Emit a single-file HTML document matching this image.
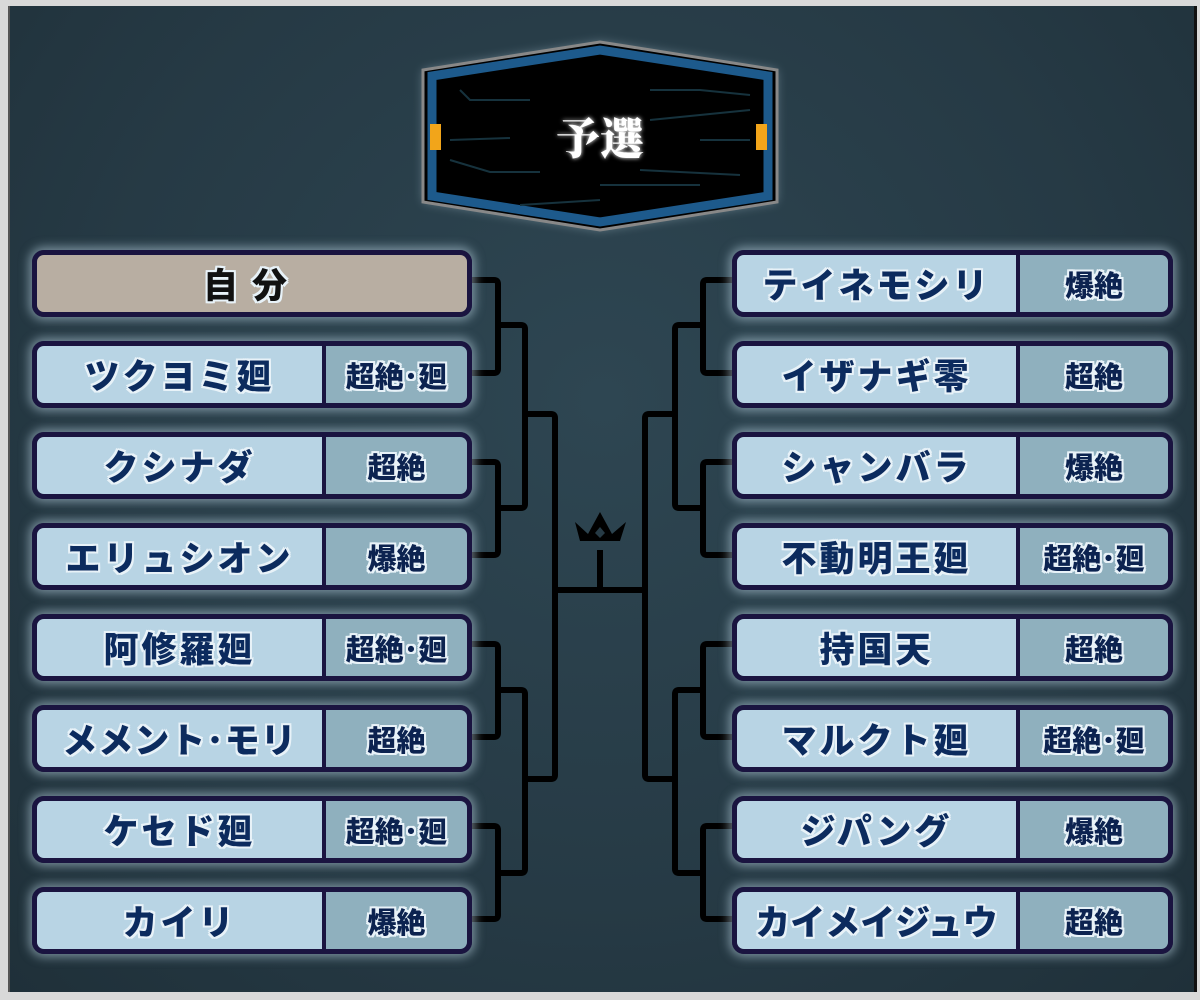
<!DOCTYPE html>
<html><head><meta charset="utf-8"><style>
html,body{margin:0;padding:0}
body{width:1200px;height:1000px;background:#d9d9d9;position:relative;overflow:hidden;font-family:"Liberation Sans","Noto Sans CJK JP",sans-serif}
#bg{position:absolute;left:8px;top:6px;width:1184px;height:986px;background:radial-gradient(ellipse at 50% 40%,#2e4652 0%,#263a45 60%,#1f3039 100%);border-right:3px solid #111;border-left:2px solid #555}
.box{position:absolute;height:57px;border:5px solid #1a1440;border-radius:12px;box-shadow:0 0 10px 3px rgba(190,215,230,.55);overflow:hidden;display:flex}
.n{background:#b8d4e4;display:flex;align-items:center;justify-content:center;font-weight:900;font-size:35px;color:#0c2b5e;letter-spacing:3px;text-shadow:2px 0 #e8f2f8,-2px 0 #e8f2f8,0 2px #e8f2f8,0 -2px #e8f2f8,2px 2px #e8f2f8,-2px -2px #e8f2f8,2px -2px #e8f2f8,-2px 2px #e8f2f8}
.t{background:#8fb0be;border-left:4px solid #1a1440;display:flex;align-items:center;justify-content:center;font-weight:900;font-size:29px;color:#0c2350;text-shadow:2px 0 #e8f2f8,-2px 0 #e8f2f8,0 2px #e8f2f8,0 -2px #e8f2f8,2px 2px #e8f2f8,-2px -2px #e8f2f8,2px -2px #e8f2f8,-2px 2px #e8f2f8}
.L{left:32px;width:430px}.L .n{width:285px}.L .t{flex:1}
.R{left:732px;width:431px}.R .n{width:279px}.R .t{flex:1}
</style></head><body>
<div id="bg"></div>
<svg style="position:absolute;left:0;top:0" width="1200" height="1000">
<defs><filter id="g" x="-20%" y="-20%" width="140%" height="140%"><feGaussianBlur stdDeviation="5"/></filter>
<filter id="tg" x="-30%" y="-30%" width="160%" height="160%"><feGaussianBlur stdDeviation="2" result="b"/><feMerge><feMergeNode in="b"/><feMergeNode in="SourceGraphic"/></feMerge></filter></defs>
<polygon points="423,70 600,42 777,70 777,202 600,230 423,202" fill="#9fb6c2" opacity=".5" filter="url(#g)"/>
<polygon points="423,70 600,42 777,70 777,202 600,230 423,202" fill="#000" stroke="#888" stroke-width="3"/>
<polygon points="432,76 600,50 768,76 768,196 600,222 432,196" fill="none" stroke="#1d5a8c" stroke-width="9"/>
<g stroke="#16323d" stroke-width="2" fill="none">
<path d="M460,90 L470,100 L530,100"/><path d="M450,140 L510,138"/><path d="M450,160 L490,172 L540,172"/><path d="M520,205 L600,200"/>
<path d="M650,90 L700,90 L750,95"/><path d="M650,120 L750,110"/><path d="M700,140 L750,140"/><path d="M640,170 L740,175"/><path d="M600,185 L700,185"/>
</g>
<rect x="430" y="124" width="11" height="26" fill="#f2a51a"/><rect x="756" y="124" width="11" height="26" fill="#f2a51a"/>
<text x="600" y="154" text-anchor="middle" font-family="Liberation Serif,'Noto Serif CJK SC',serif" font-weight="900" font-size="44" fill="#fff" filter="url(#tg)">予選</text>
<g stroke="#000" stroke-width="6" fill="none" stroke-linejoin="round">
<path d="M471,280 H494 Q498,280 498,284 V369 Q498,373 494,373 H471"/>
<path d="M471,462 H494 Q498,462 498,466 V551 Q498,555 494,555 H471"/>
<path d="M471,644 H494 Q498,644 498,648 V733 Q498,737 494,737 H471"/>
<path d="M471,826 H494 Q498,826 498,830 V915 Q498,919 494,919 H471"/>
<path d="M498,325 H521 Q525,325 525,329 V504 Q525,508 521,508 H498"/>
<path d="M498,690 H521 Q525,690 525,694 V869 Q525,873 521,873 H498"/>
<path d="M525,414 H551 Q555,414 555,418 V775 Q555,779 551,779 H525"/>
<path d="M732,280 H707 Q703,280 703,284 V369 Q703,373 707,373 H732"/>
<path d="M732,462 H707 Q703,462 703,466 V551 Q703,555 707,555 H732"/>
<path d="M732,644 H707 Q703,644 703,648 V733 Q703,737 707,737 H732"/>
<path d="M732,826 H707 Q703,826 703,830 V915 Q703,919 707,919 H732"/>
<path d="M703,325 H679 Q675,325 675,329 V504 Q675,508 679,508 H703"/>
<path d="M703,690 H679 Q675,690 675,694 V869 Q675,873 679,873 H703"/>
<path d="M675,414 H649 Q645,414 645,418 V775 Q645,779 649,779 H675"/>
<path d="M555,590 H645"/><path d="M600,550 V590"/>
</g>
<polygon points="575,522 588,534 600,512 612,534 626,522 620,541 580,541" fill="#000"/>
<polygon points="595,533 600,527 605,533 600,538" fill="#263a45"/>
</svg>
<div class="box L" style="top:250px"><div class="n" style="width:100%;background:#b8aea2;color:#111;letter-spacing:14px">自分</div></div>
<div class="box L" style="top:341px"><div class="n">ツクヨミ廻</div><div class="t">超絶･廻</div></div>
<div class="box L" style="top:432px"><div class="n">クシナダ</div><div class="t">超絶</div></div>
<div class="box L" style="top:523px"><div class="n">エリュシオン</div><div class="t">爆絶</div></div>
<div class="box L" style="top:614px"><div class="n">阿修羅廻</div><div class="t">超絶･廻</div></div>
<div class="box L" style="top:705px"><div class="n" style="letter-spacing:1px">メメント･モリ</div><div class="t">超絶</div></div>
<div class="box L" style="top:796px"><div class="n">ケセド廻</div><div class="t">超絶･廻</div></div>
<div class="box L" style="top:887px"><div class="n">カイリ</div><div class="t">爆絶</div></div>
<div class="box R" style="top:250px"><div class="n">テイネモシリ</div><div class="t">爆絶</div></div>
<div class="box R" style="top:341px"><div class="n">イザナギ零</div><div class="t">超絶</div></div>
<div class="box R" style="top:432px"><div class="n">シャンバラ</div><div class="t">爆絶</div></div>
<div class="box R" style="top:523px"><div class="n">不動明王廻</div><div class="t">超絶･廻</div></div>
<div class="box R" style="top:614px"><div class="n">持国天</div><div class="t">超絶</div></div>
<div class="box R" style="top:705px"><div class="n">マルクト廻</div><div class="t">超絶･廻</div></div>
<div class="box R" style="top:796px"><div class="n">ジパング</div><div class="t">爆絶</div></div>
<div class="box R" style="top:887px"><div class="n" style="letter-spacing:0">カイメイジュウ</div><div class="t">超絶</div></div>
</body></html>
